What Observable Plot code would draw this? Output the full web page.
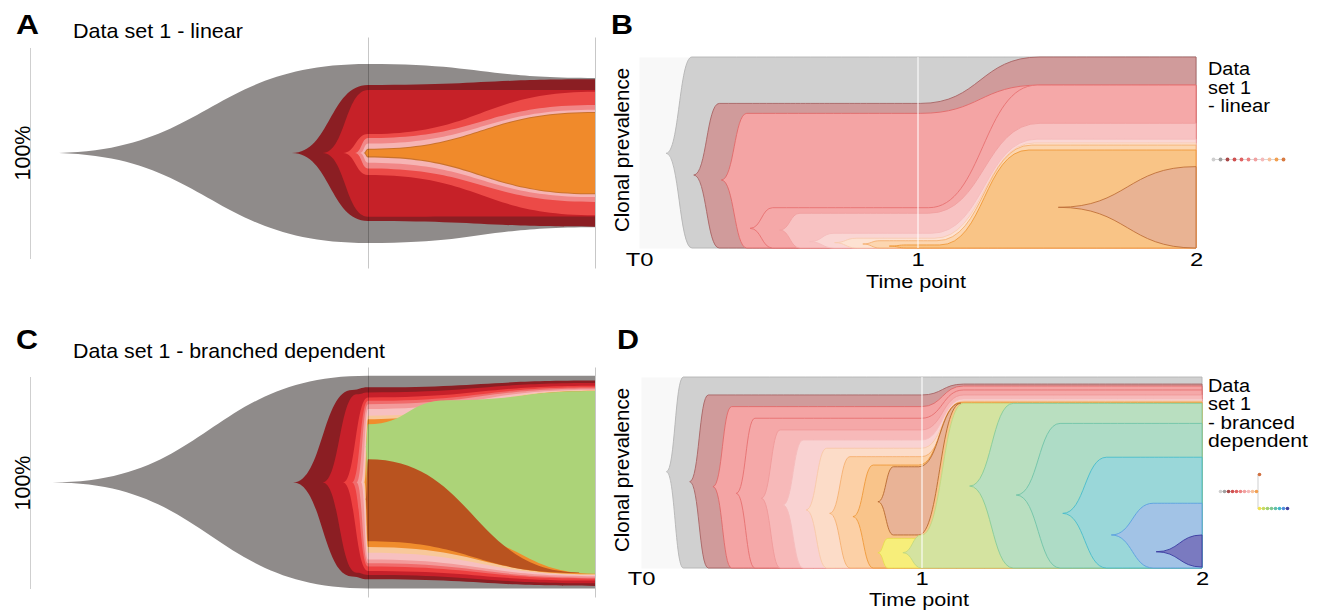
<!DOCTYPE html>
<html>
<head>
<meta charset="utf-8">
<script src="https://cdn.jsdelivr.net/npm/d3@7"></script>
<script src="https://cdn.jsdelivr.net/npm/@observablehq/plot@0.6"></script>
<style>
  html, body { margin: 0; padding: 0; background: #fff; }
  #page { position: relative; width: 1321px; height: 611px; overflow: hidden; background: #fff;
          font-family: "Liberation Sans", Arial, Helvetica, sans-serif; }
  .panel { position: absolute; }
</style>
</head>
<body>
<div id="page"></div>
<script>
// ---------------- DATA ----------------
// Time points
const timeTicks = [0, 1, 2];
const timeTickLabels = ["T0", "1", "2"];

// Panel A (fish plot, linear): each clone = [time, lower %, upper %]
const bandsA = [
  [[-0.405, 0, 0], [1, -42.9, 42.4], [2, -35.3, 35.7]],
  [[0.665, 0, 0], [1, -32.4, 32.4], [2, -35.1, 35.1]],
  [[0.80, 0, 0], [1, -30.3, 30.0], [2, -30.2, 30.0]],
  [[0.89, 0, 0], [1, -10.5, 9.0], [2, -29.6, 29.2]],
  [[0.943, 0, 0], [1, -7.4, 7.1], [2, -23.3, 22.9]],
  [[0.965, 0, 0], [1, -4.6, 4.5], [2, -21.0, 20.6]],
  [[0.98, 0, 0], [1, -2.1, 2.0], [2, -19.7, 19.5]],
  [[0.987, 0, 0], [1, -1.5, 1.5], [2, -19.2, 19.0]]
];
const fillsA = ["#8f8b8a", "#8b1e23", "#c62128", "#ec4a47", "#f18787", "#f6b4b4", "#c9722c", "#f08a2b"];

// Panel C (fish plot, branched dependent)
const bandsC = [
  [[-0.39, 0, 0], [1, -50.2, 50.6], [2, -50.2, 50.6]],
  [[0.67, 0, 0], [0.93, -44.5, 43.8], [1, -45.9, 45.1], [2, -49.0, 48.3]],
  [[0.80, 0, 0], [0.95, -42.8, 41.8], [1, -43.8, 42.7], [2, -47.8, 47.1]],
  [[0.89, 0, 0], [1, -41.9, 40.3], [2, -46.5, 45.9]],
  [[0.93, 0, 0], [1, -39.8, 38.7], [2, -45.6, 45.1]],
  [[0.95, 0, 0], [1, -38.3, 37.1], [2, -45.1, 44.6]],
  [[0.97, 0, 0], [1, -36.5, 34.8], [2, -44.4, 44.0]],
  [[0.98, 0, 0], [1, -33.3, 31.6], [2, -43.8, 43.7]],
  [[0.985, 0, 0], [1, -30.6, 30.0], [2, -43.5, 43.5]],
  [[0.99, 17, 17], [1, -20, 27.6], [1.35, -25, 39], [2, -43.2, 43.4]],
  [[0.99, -8, -8], [1, -27.9, 11], [1.93, -42.9, -42.6]]
];
const fillsC = ["#8f8b8a", "#8b1e23", "#c7202a", "#ed4040", "#f06b6b", "#f39a9a", "#f7c0c0", "#f8c89a", "#f08c2c", "#acd378", "#b9531f"];

// Panel B (timescape, linear): [time, lower %, upper %]
const bandsB = [
  [[0.099, 49.6, 49.6], [0.19, 0, 100], [2, 0, 100]],
  [[0.198, 38.2, 38.2], [0.288, 0, 75.7], [1.01, 0, 75.7], [1.44, 0, 100], [2, 0, 100]],
  [[0.297, 35.6, 35.6], [0.387, 0, 70.5], [1.01, 0, 70.5], [1.44, 0, 85.3], [2, 0, 85.3]],
  [[0.40, 10.3, 10.3], [0.48, 0, 21.1], [1.04, 0, 21.1], [1.43, 0, 85.3], [2, 0, 85.3]],
  [[0.506, 9.4, 9.4], [0.578, 0, 18.2], [1.04, 0, 18.2], [1.44, 0, 65.3], [2, 0, 65.3]],
  [[0.614, 3.3, 3.3], [0.70, 0, 7.7], [1.05, 0, 7.7], [1.43, 0, 57], [2, 0, 57]],
  [[0.704, 2.8, 2.8], [0.78, 0, 5.1], [1.06, 0, 5.1], [1.42, 0, 55], [2, 0, 55]],
  [[0.805, 2.1, 2.1], [0.865, 0, 3.8], [1.07, 0, 3.8], [1.41, 0, 53.9], [2, 0, 53.9]],
  [[0.90, 1, 1], [0.96, 0, 1.6], [1.08, 0, 1.6], [1.40, 0, 51.3], [2, 0, 51.3]],
  [[1.507, 21.3, 21.3], [2, 0, 42.6]]
];
const fillsB = ["#d0d0d0", "#d09b9b", "#f4a4a4", "#f5a8a8", "#f8c2c2", "#fad6d4", "#fde2d2", "#fcd6b0", "#f9c486", "#e9b393"];
const strokesB = ["#b4b4b4", "#a86464", "#e06a6a", "#e87272", "#f0a0a0", "#f5bcbc", "#f8cbb0", "#f5b070", "#ef9a3a", "#c0703a"];

// Panel D (timescape, branched dependent)
const bandsD = [
  [[0.092, 50.4, 50.4], [0.151, 0, 100], [2, 0, 100]],
  [[0.175, 45.2, 45.2], [0.24, 0, 90.6], [1.0, 0, 90.6], [1.15, 0, 96.3], [2, 0, 96.3]],
  [[0.258, 42.6, 42.6], [0.323, 0, 84.5], [1.0, 0, 84.5], [1.15, 0, 95.3], [2, 0, 95.3]],
  [[0.341, 39.1, 39.1], [0.406, 0, 78.4], [1.0, 0, 78.4], [1.15, 0, 93.2], [2, 0, 93.2]],
  [[0.43, 36.5, 36.5], [0.496, 0, 72.3], [1.0, 0, 72.3], [1.15, 0, 90.6], [2, 0, 90.6]],
  [[0.507, 33, 33], [0.578, 0, 67], [1.0, 0, 67], [1.15, 0, 88.5], [2, 0, 88.5]],
  [[0.59, 30.4, 30.4], [0.662, 0, 62.7], [1.0, 0, 62.7], [1.15, 0, 87.5], [2, 0, 87.5]],
  [[0.674, 28.6, 28.6], [0.745, 0, 58.3], [1.0, 0, 58.3], [1.15, 0, 87], [2, 0, 87]],
  [[0.757, 26.9, 26.9], [0.828, 0, 53.9], [0.99, 0, 53.9], [1.14, 0, 86.7], [2, 0, 86.7]],
  [[0.846, 34.7, 34.7], [0.90, 17.3, 53], [0.99, 17.3, 53], [1.14, 86.2, 86.4]],
  [[0.846, 8, 8], [0.88, 0, 15.5], [1.0, 0, 15.5]],
  [[0.935, 8, 8], [1.0, 0, 17.3], [1.15, 0, 86.2], [2, 0, 86.2]],
  [[1.173, 42.9, 42.9], [1.327, 0, 86.2], [2, 0, 86.2]],
  [[1.339, 38.2, 38.2], [1.494, 0, 75.7], [2, 0, 75.7]],
  [[1.505, 28.6, 28.6], [1.66, 0, 58], [2, 0, 58]],
  [[1.678, 17.3, 17.3], [1.826, 0, 33.9], [2, 0, 33.9]],
  [[1.838, 8.5, 8.5], [2, 0.5, 17.3]]
];
const fillsD = ["#d0d0d0", "#d09b9b", "#f4a4a4", "#f5a8a8", "#f7b9b9", "#f9d2d2", "#fcdcc8", "#fcd0a6", "#f9c48a", "#e9b396",
                "#f7ee7a", "#d4e3a0", "#b9dfc0", "#aedcc6", "#9ad7d9", "#a2c3e6", "#7a7ac0"];
const strokesD = ["#b4b4b4", "#a86464", "#e06a6a", "#e67070", "#ef9a9a", "#f5bcbc", "#f8c8a8", "#f5b070", "#ef9a3a", "#b86a30",
                  "#e8dc50", "#c2d880", "#88cc98", "#70c4a8", "#48bccc", "#5aa0e0", "#3a3aa0"];

// Tree icons
const treeBFills = ["#cfcfcf", "#a0a0a0", "#a84848", "#d05050", "#e06262", "#ec8080", "#f2a0a0", "#f6baba", "#f8c09a", "#f2a050", "#d87a40"];
const treeDCol = [0, 1, 2, 3, 4, 5, 6, 7, 8, 9, 9.75, 9.75, 10.75, 11.75, 12.75, 13.75, 14.75, 15.75, 16.75];
const treeDRow = [0, 0, 0, 0, 0, 0, 0, 0, 0, 0, 1, -1, -1, -1, -1, -1, -1, -1, -1];
const treeDParent = [-1, 0, 1, 2, 3, 4, 5, 6, 7, 8, 9, 9, 11, 12, 13, 14, 15, 16, 17];
const treeDFills = ["#cfcfcf", "#a0a0a0", "#a84848", "#d05050", "#e06262", "#ec8080", "#f2a0a0", "#f6baba", "#f8c09a", "#f2a050",
                    "#d07040", "#f0e050", "#c8dc60", "#a0d070", "#80c890", "#60c0a8", "#40b8c8", "#5090e0", "#4040a0"];

// Texts
const panelLetters = ["A", "B", "C", "D"];
const panelTitles = ["Data set 1 - linear", "Data set 1 - branched dependent"];
const fishAxisLabel = "100%";
const yLabel = "Clonal prevalence";
const xLabel = "Time point";
const legendB = ["Data", "set 1", "- linear"];
const legendD = ["Data", "set 1", "- branced", "dependent"];

// ---------------- DRAW ----------------
const FONT = '"Liberation Sans", Arial, Helvetica, sans-serif';
const page = document.getElementById("page");

function place(node, left, top) {
  const div = document.createElement("div");
  div.className = "panel";
  div.style.left = left + "px";
  div.style.top = top + "px";
  div.appendChild(node);
  page.appendChild(div);
}

function bandMarks(bands, fills, strokes, sw) {
  return bands.map((pts, i) => Plot.areaY(pts, {
    x: d => d[0], y1: d => d[1], y2: d => d[2],
    fill: fills[i],
    stroke: strokes ? strokes[i] : "none",
    strokeWidth: sw,
    curve: "bump-x"
  }));
}

const baseStyle = {background: "transparent", fontFamily: FONT, overflow: "visible", color: "black"};

// Panel A
place(Plot.plot({
  width: 610, height: 300,
  marginLeft: 30, marginRight: 15, marginTop: 48, marginBottom: 42,
  x: {domain: [-0.489, 2], axis: null},
  y: {domain: [-50, 50], axis: null},
  style: baseStyle,
  marks: [
    ...bandMarks(bandsA, fillsA, null, 0),
    Plot.ruleX([1, 2], {y1: -55, y2: 55, stroke: "#000", strokeOpacity: 0.22, strokeWidth: 1}),
    Plot.frame({anchor: "left", stroke: "#cfcfcf", strokeWidth: 1})
  ]
}), 0, 0);

// Panel C
place(Plot.plot({
  width: 610, height: 311,
  marginLeft: 30, marginRight: 15, marginTop: 77, marginBottom: 23,
  x: {domain: [-0.489, 2], axis: null},
  y: {domain: [-50, 50], axis: null},
  style: baseStyle,
  marks: [
    ...bandMarks(bandsC, fillsC, null, 0),
    Plot.ruleX([1, 2], {y1: -54.5, y2: 54.5, stroke: "#000", strokeOpacity: 0.22, strokeWidth: 1}),
    Plot.frame({anchor: "left", stroke: "#cfcfcf", strokeWidth: 1})
  ]
}), 0, 300);

function stretchTicks(svgNode, k) {
  d3.select(svgNode).selectAll('g[aria-label="x-axis tick label"] text').each(function () {
    const t = this.getAttribute("transform");
    if (t) {
      this.setAttribute("transform", t + ` scale(${k},1)`);
    } else {
      const x = +this.getAttribute("x") || 0, y = +this.getAttribute("y") || 0;
      this.removeAttribute("x"); this.removeAttribute("y");
      this.setAttribute("transform", `translate(${x},${y}) scale(${k},1)`);
    }
  });
  return svgNode;
}

function timescape(bands, fills, strokes, opts) {
  return stretchTicks(Plot.plot({
    width: 711, height: opts.height,
    marginLeft: opts.ml, marginRight: opts.mr, marginTop: opts.mt, marginBottom: opts.mb,
    x: {domain: [0, 2]},
    y: {domain: [0, 100], axis: null},
    style: baseStyle,
    marks: [
      Plot.frame({fill: "#f8f8f8", stroke: "none"}),
      ...bandMarks(bands, fills, strokes, 0.9),
      Plot.ruleX([1], {stroke: "#ffffff", strokeOpacity: 0.7, strokeWidth: 1.5}),
      Plot.axisX(timeTicks, {
        tickFormat: d => timeTickLabels[timeTicks.indexOf(d)],
        tickSize: 0, tickPadding: opts.pad, fontSize: 19, label: null
      })
    ]
  }), 1.25);
}

place(timescape(bandsB, fillsB, strokesB, {height: 300, ml: 29, mr: 125, mt: 57, mb: 52, pad: 4}), 610, 0);
place(timescape(bandsD, fillsD, strokesD, {height: 311, ml: 31, mr: 119, mt: 77, mb: 43, pad: 3}), 610, 300);

// Tree icons
const treeB = treeBFills.map((c, i) => ({i, c}));
place(Plot.plot({
  width: 80, height: 14, marginLeft: 5, marginRight: 5, marginTop: 2, marginBottom: 2,
  x: {domain: [0, 10], axis: null}, y: {domain: [-1, 1], axis: null},
  color: {type: "identity"},
  style: baseStyle,
  marks: [
    Plot.lineY(treeB, {x: "i", y: () => 0, stroke: "#d8d8d8", strokeWidth: 1.2}),
    Plot.dot(treeB, {x: "i", y: () => 0, r: 1.9, fill: "c"})
  ]
}), 1208, 152);

const treeD = treeDCol.map((x, i) => ({x, y: treeDRow[i], c: treeDFills[i], p: treeDParent[i]}));
const treeDLinks = treeD.filter(d => d.p >= 0).map(d => ({x1: treeD[d.p].x, y1: treeD[d.p].y, x2: d.x, y2: d.y}));
place(Plot.plot({
  width: 80, height: 40, marginLeft: 6, marginRight: 6, marginTop: 3, marginBottom: 3,
  x: {domain: [0, 17], axis: null}, y: {domain: [-1, 1], axis: null},
  color: {type: "identity"},
  style: baseStyle,
  marks: [
    Plot.link(treeDLinks, {x1: "x1", y1: "y1", x2: "x2", y2: "y2", stroke: "#d8d8d8", strokeWidth: 1.2, curve: "step"}),
    Plot.dot(treeD, {x: "x", y: "y", r: 1.8, fill: "c"})
  ]
}), 1214, 471);

// Text overlay
const svg = d3.select(page).append("svg")
  .attr("width", 1321).attr("height", 611)
  .style("position", "absolute").style("left", 0).style("top", 0)
  .style("pointer-events", "none")
  .style("font-family", FONT);

function txt(s, x, y, size, o = {}) {
  const t = svg.append("text").text(s)
    .attr("font-size", size)
    .attr("fill", "#000")
    .attr("font-weight", o.bold ? "bold" : "normal")
    .attr("text-anchor", o.anchor || "start");
  if (o.len) t.attr("textLength", o.len).attr("lengthAdjust", "spacingAndGlyphs");
  if (o.rotate) t.attr("transform", `translate(${x},${y}) rotate(${o.rotate})`);
  else t.attr("x", x).attr("y", y);
  return t;
}

txt(panelLetters[0], 16, 34, 27, {bold: true, len: 23});
txt(panelLetters[1], 611, 34, 27, {bold: true, len: 22});
txt(panelLetters[2], 16, 349, 27, {bold: true, len: 22});
txt(panelLetters[3], 617, 349, 27, {bold: true, len: 22});
txt(panelTitles[0], 73, 38, 21, {len: 170});
txt(panelTitles[1], 73, 358, 21, {len: 312});
txt(fishAxisLabel, 30, 153, 21.5, {rotate: -90, anchor: "middle"});
txt(fishAxisLabel, 30, 483, 21.5, {rotate: -90, anchor: "middle"});
txt(yLabel, 629, 150, 20.5, {rotate: -90, anchor: "middle"});
txt(yLabel, 629, 470, 20.5, {rotate: -90, anchor: "middle"});
txt(xLabel, 916, 287.5, 18.5, {anchor: "middle", len: 100});
txt(xLabel, 919, 606, 18.5, {anchor: "middle", len: 100});
const legendBLen = [42, 43, 62];
const legendDLen = [42, 43, 87, 100];
[75, 93.5, 112].forEach((y, i) => txt(legendB[i], 1208, y, 18, {len: legendBLen[i]}));
[392, 410, 428.5, 447].forEach((y, i) => txt(legendD[i], 1208, y, 18, {len: legendDLen[i]}));
</script>
</body>
</html>
